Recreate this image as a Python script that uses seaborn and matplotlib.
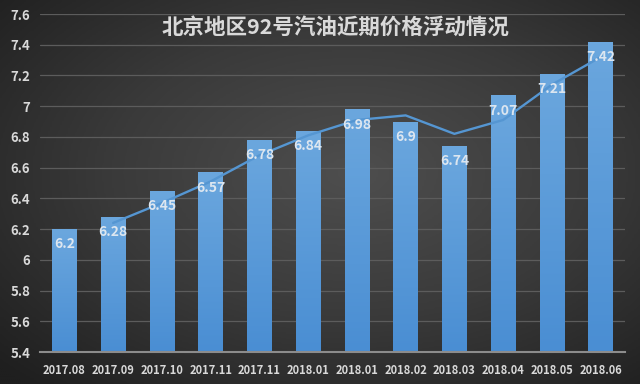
import numpy as np
import pandas as pd
import seaborn as sns
import matplotlib.pyplot as plt

months = ['2017.08', '2017.09', '2017.10', '2017.11', '2017.11', '2018.01',
          '2018.01', '2018.02', '2018.03', '2018.04', '2018.05', '2018.06']
prices = [6.2, 6.28, 6.45, 6.57, 6.78, 6.84, 6.98, 6.9, 6.74, 7.07, 7.21, 7.42]
# 2-period moving average trend line (starts at 2nd month)
trend = [6.24, 6.37, 6.51, 6.68, 6.81, 6.91, 6.94, 6.82, 6.91, 7.14, 7.32]
yticks = [5.4, 5.6, 5.8, 6, 6.2, 6.4, 6.6, 6.8, 7, 7.2, 7.4, 7.6]
title = '北京地区92号汽油近期价格浮动情况'

sns.set_theme(style='white')
plt.rcParams['font.family'] = ['Noto Sans CJK SC', 'DejaVu Sans']

fig = plt.figure(figsize=(6.4, 3.84), dpi=100)

# dark radial background
bg = fig.add_axes([0, 0, 1, 1], zorder=-10)
yy, xx = np.mgrid[0:1:200j, 0:1:320j]
r = np.sqrt(((xx - 0.55) / 0.75) ** 2 + ((yy - 0.45) / 0.75) ** 2)
bg.imshow(np.clip(r, 0, 1), cmap=plt.matplotlib.colors.LinearSegmentedColormap.from_list(
    'bg', ['#4e4e4e', '#3a3a3a', '#1f1f1f']), aspect='auto', extent=[0, 1, 0, 1])
bg.axis('off')

ax = fig.add_axes([40 / 640, 1 - 352 / 384, 585 / 640, 338 / 384])
ax.set_facecolor('none')

df = pd.DataFrame({'idx': range(len(months)), 'price': prices})
sns.barplot(data=df, x='idx', y='price', color='#5b9bd5', width=0.5,
            saturation=1, ax=ax, zorder=2)

# gradient fill for bars
grad = np.linspace(0, 1, 100).reshape(-1, 1)
bar_cmap = plt.matplotlib.colors.LinearSegmentedColormap.from_list('bar', ['#6ba7de', '#4a8ed3'])
for p in ax.patches:
    x0, w, h = p.get_x(), p.get_width(), p.get_height()
    im = ax.imshow(grad, cmap=bar_cmap, aspect='auto', extent=[x0, x0 + w, 5.4, h], zorder=2)
    im.set_clip_path(p)
    p.set_facecolor('none')
    p.set_edgecolor('none')

ax.plot(df['idx'][1:], trend, color='#5596d2', lw=1.7, zorder=3)

for i, v in enumerate(prices):
    ax.text(i, v - 0.1, f'{v:g}', ha='center', va='center', color='#dce6f0',
            fontsize=10, fontweight='bold', zorder=4)

ax.set_xlim(-0.5, len(months) - 0.5)
ax.set_ylim(5.4, 7.6)
ax.set_yticks(yticks)
ax.set_yticklabels([f'{t:g}' for t in yticks])
ax.set_xticks(range(len(months)))
ax.set_xticklabels(months)
ax.tick_params(axis='both', length=0, colors='#d9d9d9', labelsize=8)
ax.tick_params(axis='y', labelsize=9.5, pad=7)
ax.tick_params(axis='x', pad=9)
for lab in ax.get_xticklabels() + ax.get_yticklabels():
    lab.set_fontweight('bold')
ax.set_xlabel('')
ax.set_ylabel('')
ax.grid(axis='y', color='#5c5c5c', lw=0.9, zorder=0)
ax.set_axisbelow(True)
for s in ['top', 'right', 'left']:
    ax.spines[s].set_visible(False)
ax.spines['bottom'].set_color('#8c8c8c')
ax.spines['bottom'].set_linewidth(1.5)

fig.text(335 / 640, 1 - 27 / 384, title, ha='center', va='center', color='#d9d9d9',
         fontsize=15.5, fontweight='bold')

fig.savefig('out.png', dpi=100)
